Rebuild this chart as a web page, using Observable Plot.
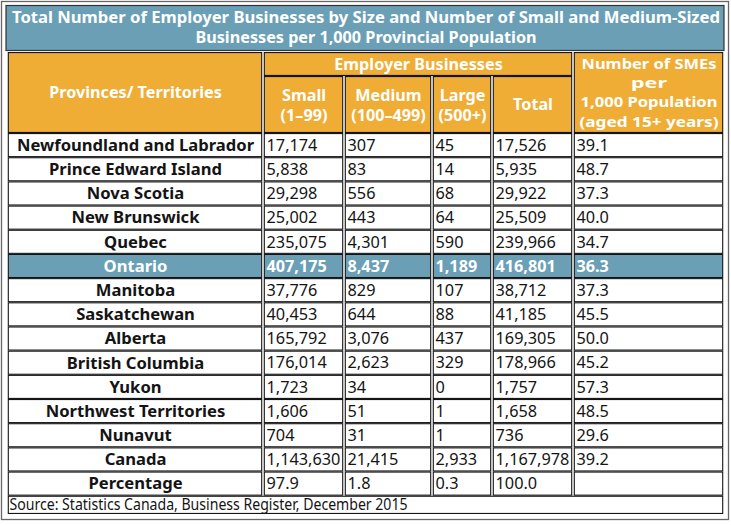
<!DOCTYPE html>
<html><head><meta charset="utf-8">
<script src="https://cdn.jsdelivr.net/npm/d3@7"></script>
<script src="https://cdn.jsdelivr.net/npm/@observablehq/plot@0.6"></script>
<style>body{margin:0;background:#fff}</style>
</head><body><div id="chart"></div>
<script>
// ---- data ----
const titleLines = ["Total Number of Employer Businesses by Size and Number of Small and Medium-Sized", "Businesses per 1,000 Provincial Population"];
const rowHeader = "Provinces/ Territories";
const groupHeader = "Employer Businesses";
const sizeHeaders = [["Small", "(1–99)"], ["Medium", "(100–499)"], ["Large", "(500+)"], ["Total"]];
const smeHeader = ["Number of SMEs", "per", "1,000 Population", "(aged 15+ years)"];
const provinces = ["Newfoundland and Labrador", "Prince Edward Island", "Nova Scotia", "New Brunswick", "Quebec", "Ontario", "Manitoba", "Saskatchewan", "Alberta", "British Columbia", "Yukon", "Northwest Territories", "Nunavut", "Canada"];
const small = [17174, 5838, 29298, 25002, 235075, 407175, 37776, 40453, 165792, 176014, 1723, 1606, 704, 1143630];
const medium = [307, 83, 556, 443, 4301, 8437, 829, 644, 3076, 2623, 34, 51, 31, 21415];
const large = [45, 14, 68, 64, 590, 1189, 107, 88, 437, 329, 0, 1, 1, 2933];
const total = [17526, 5935, 29922, 25509, 239966, 416801, 38712, 41185, 169305, 178966, 1757, 1658, 736, 1167978];
const smesPer1000 = [39.1, 48.7, 37.3, 40.0, 34.7, 36.3, 37.3, 45.5, 50.0, 45.2, 57.3, 48.5, 29.6, 39.2];
const percentageLabel = "Percentage";
const percentage = [97.9, 1.8, 0.3, 100.0];
const highlight = "Ontario";
const source = "Source: Statistics Canada, Business Register, December 2015";

// ---- layout ----
const W = 731, H = 525;
const BLUE = "#6a9fb6", ORANGE = "#efad35", INK = "#141414";
const colX = [7, 263, 344, 432, 492, 573, 724];
const hTop = 52, hMid = 76, dTop = 133, rowH = 24.18;
const nRows = provinces.length + 1;
const dBot = dTop + nRows * rowH, sBot = 514;
const smeLineWidths = [135, 36, 137, 139];

const cells = [];
cells.push({x1: colX[0], x2: colX[1], y1: hTop, y2: dTop, fill: ORANGE});
cells.push({x1: colX[1], x2: colX[5], y1: hTop, y2: hMid, fill: ORANGE});
for (let j = 1; j <= 4; j++) cells.push({x1: colX[j], x2: colX[j + 1], y1: hMid, y2: dTop, fill: ORANGE});
cells.push({x1: colX[5], x2: colX[6], y1: hTop, y2: dTop, fill: ORANGE});
const labels = [...provinces, percentageLabel];
labels.forEach((p, i) => {
  for (let j = 0; j < 6; j++) cells.push({x1: colX[j], x2: colX[j + 1], y1: dTop + i * rowH, y2: dTop + (i + 1) * rowH, fill: p === highlight ? BLUE : "#ffffff"});
});
cells.push({x1: colX[0], x2: colX[6], y1: dBot, y2: sBot, fill: "#ffffff"});

// header texts
const titleTexts = titleLines.map((t, k) => ({x: (colX[0] + colX[6]) / 2, y: 17 + k * 20.5, text: t}));
const headTexts = [];
headTexts.push({x: (colX[0] + colX[1]) / 2, y: 92, text: rowHeader});
headTexts.push({x: (colX[1] + colX[5]) / 2, y: 64, text: groupHeader});
sizeHeaders.forEach((lines, j) => {
  const cx = (colX[j + 1] + colX[j + 2]) / 2;
  lines.forEach((t, k) => headTexts.push({x: cx, y: (lines.length === 1 ? 104 : 95 + k * 20), text: t}));
});
const smeTexts = smeHeader.map((t, k) => ({x: (colX[5] + colX[6]) / 2, y: 63.5 + k * 19.4, text: t}));

const fmt = d3.format(",");
const labelTexts = labels.map((p, i) => ({x: (colX[0] + colX[1]) / 2, y: dTop + (i + 0.5) * rowH, text: p, fill: p === highlight ? "#ffffff" : INK}));
const numTexts = [], numBold = [];
provinces.forEach((p, i) => {
  const vals = [fmt(small[i]), fmt(medium[i]), fmt(large[i]), fmt(total[i]), smesPer1000[i].toFixed(1)];
  vals.forEach((v, j) => (p === highlight ? numBold : numTexts).push({x: colX[j + 1] + 3, y: dTop + (i + 0.5) * rowH, text: v}));
});
percentage.forEach((v, j) => numTexts.push({x: colX[j + 1] + 3, y: dTop + (provinces.length + 0.5) * rowH, text: v.toFixed(1)}));

const chart = Plot.plot({
  width: W, height: H, margin: 0,
  x: {type: "linear", domain: [0, W], range: [0, W], axis: null},
  y: {type: "linear", domain: [0, H], range: [0, H], axis: null},
  color: {type: "identity"},
  style: {background: "#fff", fontFamily: "Noto Sans"},
  marks: [
    Plot.rect([{x1: 1.5, x2: 728.5, y1: 1.5, y2: 519.5}], {x1: "x1", x2: "x2", y1: "y1", y2: "y2", fill: "none", stroke: "#666", strokeWidth: 1.3}),
    Plot.rect([{x1: 6, x2: 724, y1: 5.5, y2: 50.5}], {x1: "x1", x2: "x2", y1: "y1", y2: "y2", fill: BLUE, stroke: "#333", strokeWidth: 1.2}),
    Plot.rect(cells, {x1: "x1", x2: "x2", y1: "y1", y2: "y2", fill: "fill", stroke: INK, strokeWidth: 1.1, insetLeft: 1.3, insetRight: 1.3, insetTop: 0.55, insetBottom: 0.55}),
    Plot.text(titleTexts, {x: "x", y: "y", text: "text", fill: "#fff", fontWeight: "bold", fontSize: 16.2, fontFamily: "Noto Sans", className: "ttl"}),
    Plot.text(headTexts, {x: "x", y: "y", text: "text", fill: "#fff", fontWeight: "bold", fontSize: 16.2, fontFamily: "Noto Sans"}),
    Plot.text(smeTexts, {x: "x", y: "y", text: "text", fill: "#fff", fontWeight: "bold", fontSize: 14.2, fontFamily: "Noto Sans", className: "sme"}),
    Plot.text(labelTexts, {x: "x", y: "y", text: "text", fill: "fill", fontWeight: "bold", fontSize: 16.6, fontFamily: "Noto Sans"}),
    Plot.text(numTexts, {x: "x", y: "y", text: "text", fill: INK, textAnchor: "start", fontSize: 16.3, fontFamily: "Noto Sans"}),
    Plot.text(numBold, {x: "x", y: "y", text: "text", fill: "#fff", fontWeight: "bold", textAnchor: "start", fontSize: 16.2, fontFamily: "Noto Sans"}),
    Plot.text([{x: colX[0] + 2, y: (dBot + sBot) / 2, text: source}], {x: "x", y: "y", text: "text", fill: INK, textAnchor: "start", fontSize: 16, fontFamily: "Noto Sans", className: "src"})
  ]
});
d3.select(chart).selectAll(".src text").attr("textLength", 398).attr("lengthAdjust", "spacingAndGlyphs");
d3.select(chart).selectAll(".ttl text").filter((d, i) => i === 0).attr("textLength", 708).attr("lengthAdjust", "spacingAndGlyphs");
d3.select(chart).selectAll(".sme text").each(function (d, i) {
  d3.select(this).attr("textLength", smeLineWidths[i]).attr("lengthAdjust", "spacingAndGlyphs");
});
document.getElementById("chart").append(chart);
</script>
</body></html>
